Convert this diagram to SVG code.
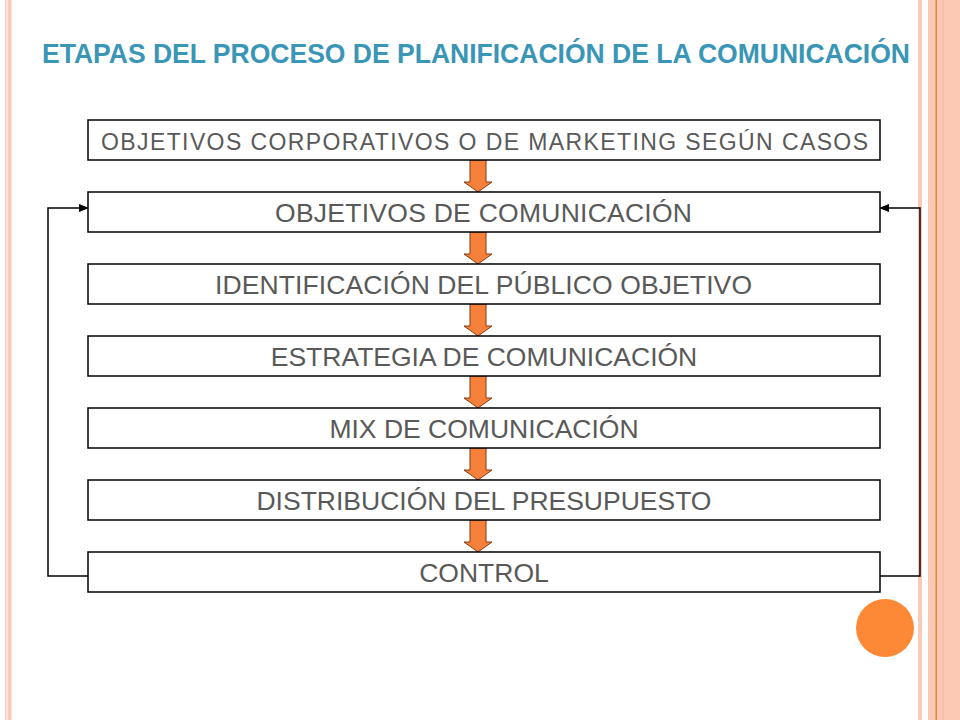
<svg xmlns="http://www.w3.org/2000/svg" width="960" height="720" viewBox="0 0 960 720">
<defs>
<style>
.box{fill:#fff;stroke:#000;stroke-width:1.5}
.t{font-family:"Liberation Sans",Arial,sans-serif;fill:#595959;text-anchor:middle;font-size:26.5px}
.arr{fill:#F5813A;stroke:#8a3a10;stroke-width:1}
.fb{fill:none;stroke:#000;stroke-width:1.5}
</style>
<marker id="ah" markerWidth="10" markerHeight="8" refX="9" refY="4" orient="auto" markerUnits="userSpaceOnUse">
<path d="M0,0 L10,4 L0,8 Z" fill="#000"/>
</marker>
<path id="dn" class="arr" d="M-8,0 L8,0 L8,22 L14,22 L0,32 L-14,22 L-8,22 Z"/>
</defs>
<rect width="960" height="720" fill="#fff"/>
<g id="border">
<rect x="5" y="0" width="1.5" height="720" fill="#FBC9B6"/>
<rect x="7.5" y="0" width="4" height="720" fill="#FBC9B6"/>
<rect x="918" y="0" width="4" height="720" fill="#FBC9B6"/>
<rect x="928" y="0" width="32" height="720" fill="#FCC9B5"/>
<rect x="935.5" y="0" width="1.5" height="720" fill="#E8843C"/>
<rect x="942.5" y="0" width="1" height="720" fill="#F6B89E"/>
</g>
<text x="476" y="63" font-family="Liberation Sans,Arial,sans-serif" font-weight="bold" font-size="28" fill="#3A96B6" text-anchor="middle" textLength="868" lengthAdjust="spacingAndGlyphs">ETAPAS DEL PROCESO DE PLANIFICACIÓN DE LA COMUNICACIÓN</text>
<g id="connectors">
<use href="#dn" x="478" y="160"/>
<use href="#dn" x="478" y="232"/>
<use href="#dn" x="478" y="304"/>
<use href="#dn" x="478" y="376"/>
<use href="#dn" x="478" y="448"/>
<use href="#dn" x="478" y="520"/>
<polyline class="fb" points="88,576 48,576 48,208 88,208" marker-end="url(#ah)"/>
<polyline class="fb" points="880,576 920,576 920,208 880,208" marker-end="url(#ah)"/>
</g>
<g id="n1"><rect class="box" x="88" y="120" width="792" height="40"/><text class="t" x="484.5" y="150" style="font-size:23px" textLength="767" lengthAdjust="spacing">OBJETIVOS CORPORATIVOS O DE MARKETING SEGÚN CASOS</text></g>
<g id="n2"><rect class="box" x="88" y="192" width="792" height="40"/><text class="t" x="483.5" y="222" textLength="417">OBJETIVOS DE COMUNICACIÓN</text></g>
<g id="n3"><rect class="box" x="88" y="264" width="792" height="40"/><text class="t" x="483.5" y="294" textLength="537">IDENTIFICACIÓN DEL PÚBLICO OBJETIVO</text></g>
<g id="n4"><rect class="box" x="88" y="336" width="792" height="40"/><text class="t" x="484" y="366">ESTRATEGIA DE COMUNICACIÓN</text></g>
<g id="n5"><rect class="box" x="88" y="408" width="792" height="40"/><text class="t" x="484" y="438">MIX DE COMUNICACIÓN</text></g>
<g id="n6"><rect class="box" x="88" y="480" width="792" height="40"/><text class="t" x="484" y="510">DISTRIBUCIÓN DEL PRESUPUESTO</text></g>
<g id="n7"><rect class="box" x="88" y="552" width="792" height="40"/><text class="t" x="484" y="582">CONTROL</text></g>
<circle cx="885" cy="628" r="29" fill="#FD8936"/>
</svg>
